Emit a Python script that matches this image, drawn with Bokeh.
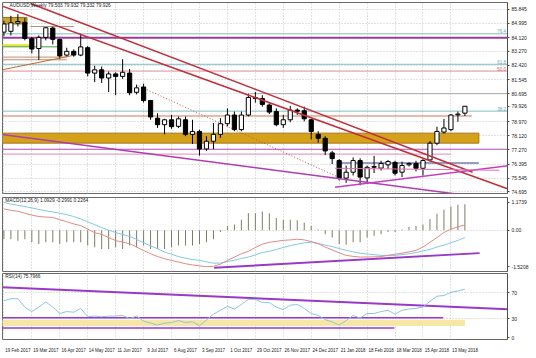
from bokeh.plotting import figure
from bokeh.models import ColumnDataSource, Range1d, FixedTicker, Grid, Label
from bokeh.layouts import column
from bokeh.embed import file_html
from bokeh.resources import INLINE

FONT = "Liberation Sans"

SYMBOL_TITLE = "AUDUSD,Weekly  79.503 79.932 79.332 79.926"
MACD_TITLE = "MACD(12,26,9) 1.0929 -0.2991 0.2264"
RSI_TITLE = "RSI(14) 75.7966"

# weekly bars: index 0 = 19 Feb 2017 ... index 66 = 27 May 2018
TICK_LABELS = ["19 Feb 2017", "19 Mar 2017", "16 Apr 2017", "14 May 2017", "11 Jun 2017",
               "9 Jul 2017", "6 Aug 2017", "3 Sep 2017", "1 Oct 2017", "29 Oct 2017",
               "26 Nov 2017", "24 Dec 2017", "21 Jan 2018", "18 Feb 2018", "18 Mar 2018",
               "15 Apr 2018", "13 May 2018"]
TICK_BARS = [0, 4, 8, 12, 16, 20, 24, 28, 32, 36, 40, 44, 48, 52, 56, 60, 64]

OPEN = [84.45, 84.50, 85.00, 85.05, 84.05, 83.45, 84.13, 84.70, 84.00, 83.05,
        83.28, 83.05, 83.50, 81.95, 82.15, 81.65, 81.90, 81.75, 81.95, 80.78,
        81.10, 80.28, 79.20, 78.80, 79.10, 78.70, 79.10, 78.21, 78.39, 77.32,
        77.79, 78.21, 78.86, 79.39, 78.50, 79.39, 80.46, 80.40, 80.00, 79.60,
        78.80, 79.10, 79.69, 79.65, 79.10, 78.21, 77.97, 77.08, 76.61, 75.54,
        75.90, 76.61, 75.55, 76.20, 76.15, 76.35, 76.50, 75.90, 76.35, 76.43,
        76.14, 76.65, 77.67, 78.35, 78.50, 79.40, 79.503]
HIGH = [85.15, 85.45, 85.55, 85.30, 84.15, 84.25, 84.75, 84.78, 84.05, 83.50,
        83.40, 84.35, 83.60, 82.40, 82.35, 82.05, 82.00, 82.80, 82.20, 81.25,
        81.30, 80.30, 79.50, 79.16, 79.40, 79.30, 79.30, 79.10, 78.50, 78.10,
        78.90, 79.20, 79.80, 79.60, 79.60, 80.70, 80.80, 80.60, 80.10, 79.80,
        79.40, 79.95, 79.80, 79.90, 79.15, 78.40, 78.10, 77.20, 76.70, 76.30,
        76.80, 76.75, 76.30, 76.90, 76.60, 76.65, 76.60, 76.55, 76.50, 76.60,
        76.70, 77.80, 78.68, 79.15, 79.45, 79.60, 79.932]
LOW = [84.20, 84.25, 84.80, 83.95, 83.15, 82.75, 83.95, 83.70, 82.80, 82.95,
       82.95, 82.98, 81.75, 81.40, 81.35, 80.80, 80.60, 81.60, 80.60, 80.65,
       80.15, 79.10, 78.60, 78.21, 78.55, 78.60, 78.10, 77.62, 76.91, 77.20,
       77.30, 78.00, 78.70, 78.40, 78.40, 79.30, 80.15, 79.90, 79.45, 78.70,
       78.60, 78.95, 79.40, 79.00, 77.90, 77.70, 76.95, 76.40, 75.40, 75.25,
       75.70, 75.10, 75.30, 75.85, 76.00, 76.10, 75.70, 75.60, 76.25, 75.95,
       75.70, 76.55, 77.55, 78.25, 78.40, 78.98, 79.332]
CLOSE = [84.95, 85.02, 85.10, 84.07, 83.42, 84.13, 84.72, 84.01, 83.00, 83.28,
         83.05, 83.55, 81.95, 82.15, 81.65, 81.90, 81.75, 82.00, 80.75, 81.05,
         80.28, 79.27, 78.80, 79.10, 78.68, 79.16, 78.21, 78.39, 77.32, 77.79,
         78.21, 78.86, 79.39, 78.50, 79.39, 80.46, 80.40, 80.04, 79.57, 78.80,
         79.10, 79.69, 79.62, 79.16, 78.39, 77.97, 77.20, 76.73, 75.54, 75.90,
         76.61, 75.60, 76.20, 76.25, 76.43, 76.55, 75.84, 76.31, 76.43, 76.14,
         76.61, 77.67, 78.39, 78.60, 79.39, 79.45, 79.926]

PRICE_GRID = [85.845, 84.995, 84.120, 83.270, 82.420, 81.545, 80.695,
              78.970, 78.120, 77.270, 76.395, 75.545, 74.695]
LAST_PRICE = 79.926
PRICE_TICKS = PRICE_GRID + [LAST_PRICE]
PRICE_TICK_LABELS = ["85.845", "84.995", "84.120", "83.270", "82.420", "81.545", "80.695",
                     "78.970", "78.120", "77.270", "76.395", "75.545", "74.695", "79.926"]

MACD_HIST = [-0.37, -0.37, -0.44, -0.37, -0.50, -0.57, -0.50, -0.50, -0.57, -0.50,
             -0.50, -0.50, -0.64, -0.71, -0.78, -0.78, -0.71, -0.78, -0.64, -0.71,
             -0.64, -0.78, -0.78, -0.78, -0.71, -0.64, -0.64, -0.64, -0.57, -0.50,
             -0.37, -0.07, 0.18, 0.25, 0.45, 0.72, 0.72, 0.79, 0.72, 0.52,
             0.45, 0.45, 0.42, 0.32, 0.18, 0.04, -0.16, -0.30, -0.57, -0.60,
             -0.50, -0.50, -0.30, -0.23, -0.16, -0.07, -0.07, 0.04, 0.14, 0.18,
             0.25, 0.48, 0.70, 0.86, 1.00, 1.07, 1.0929]
MACD_MAIN = [0.90, 0.84, 0.80, 0.72, 0.64, 0.58, 0.56, 0.54, 0.45, 0.36,
             0.27, 0.20, 0.05, -0.10, -0.17, -0.30, -0.43, -0.49, -0.56, -0.70,
             -0.85, -0.98, -1.10, -1.19, -1.26, -1.33, -1.40, -1.45, -1.49, -1.5208,
             -1.51, -1.42, -1.26, -1.12, -0.98, -0.88, -0.72, -0.58, -0.50, -0.46,
             -0.42, -0.40, -0.37, -0.40, -0.47, -0.56, -0.70, -0.82, -0.94, -1.05,
             -1.09, -1.12, -1.12, -1.11, -1.10, -1.05, -1.00, -0.96, -0.90, -0.84,
             -0.70, -0.50, -0.30, -0.09, 0.05, 0.15, 0.2264]
MACD_SIGNAL = [1.1739, 1.10, 1.05, 1.00, 0.94, 0.88, 0.82, 0.77, 0.72, 0.66,
               0.58, 0.48, 0.36, 0.24, 0.12, 0.01, -0.09, -0.17, -0.26, -0.38,
               -0.52, -0.65, -0.77, -0.91, -1.00, -1.10, -1.17, -1.22, -1.26, -1.32,
               -1.38, -1.37, -1.31, -1.25, -1.18, -1.12, -1.03, -0.93, -0.88, -0.80,
               -0.72, -0.64, -0.58, -0.52, -0.50, -0.55, -0.62, -0.68, -0.76, -0.84,
               -0.90, -0.96, -0.99, -1.02, -1.05, -1.05, -1.05, -1.02, -0.98, -0.93,
               -0.86, -0.80, -0.70, -0.62, -0.52, -0.42, -0.2991]
MACD_TICKS = [1.1739, 0.0, -1.5208]
MACD_TICK_LABELS = ["1.1739", "0.00", "-1.5208"]

RSI_VALUES = [58, 61, 61, 48, 41, 48, 56, 48, 38, 41,
              40, 46, 33, 34, 33, 34, 34, 35, 30, 34,
              26, 23, 20, 23, 24, 27, 24, 25, 19, 28,
              37, 43, 49, 45, 52, 60, 60, 55, 55, 48,
              44, 51, 52, 46, 38, 35, 28.5, 25, 20, 27,
              35, 31, 38, 38, 41, 43, 37, 43, 45, 46,
              48, 57, 65, 66, 71, 73, 75.7966]
RSI_TICKS = [70, 30, 0]

# drawn objects (bar index, value)
RED_UPPER = ([3.8, 67.1], [86.20, 75.90])
RED_LOWER = ([-0.5, 72.1], [86.08, 74.89])
MAGENTA_DOWN = ([-0.5, 65.3], [78.21, 74.54])
MAGENTA_UP = ([47.4, 72.4], [74.98, 76.31])
PINK_FLAT = ([47.4, 70.9], [76.14, 76.02])
RED_DOTTED = ([19.3, 48.1], [81.17, 75.55])
ORANGE_SHORT = ([-0.5, 9.8], [82.13, 83.02])

# horizontal levels: price, bar from, bar to, colour, width
H_LEVELS = [
    (84.347, -0.5, 72.5, "#7ebfc4", 1),
    (84.110, -0.5, 72.5, "#9a3c9a", 2),
    (84.797, 3.8, 10.0, "#b0907a", 1),
    (83.654, -0.5, 3.8, "#e6e620", 2),
    (83.554, -0.5, 8.0, "#3f9f3f", 1),
    (82.926, -0.5, 9.0, "#c08a6a", 1),
    (82.766, -0.5, 9.0, "#c08a6a", 1),
    (82.488, -0.5, 72.5, "#7ebfc4", 1),
    (82.074, -0.5, 72.5, "#e08a9a", 1),
    (80.694, 35.2, 72.5, "#a8a8a8", 1),
    (79.628, -0.5, 72.5, "#7ebfc4", 1),
    (79.332, -0.5, 67.0, "#d0785a", 1),
    (77.302, -0.5, 72.5, "#b84cb8", 1),
    (77.005, -0.5, 64.0, "#e08ab0", 1),
    (76.461, 47.8, 68.0, "#2e3a8a", 1),
]
GOLD_ZONE = (77.675, 78.284, -0.5, 68.0)
OLIVE_ZONE = (84.95, 85.35, -0.5, 3.3)
FIB_LABELS = [("76.4", 84.347, "#6aa9b0"), ("61.8", 82.488, "#6aa9b0"),
              ("50.0", 82.074, "#d06070"), ("38.2", 79.628, "#6aa9b0")]

RSI_LINE_DOWN = ([-0.5, 72.2], [78.8, 44.7])
RSI_LEVEL_A = (31.5, -0.5, 62.9)
RSI_LEVEL_B = (15.3, -0.5, 55.9)
RSI_ZONE = (18.5, 28.2, -0.5, 66.0)
MACD_LINE_UP = ([30.1, 68.1], [-1.57, -0.955])

N = len(OPEN)
IDX = list(range(N))

xr = Range1d(-0.2, 72.1)
FW = 505
GRID_C = "#c4c4c4"


def base(fh, yr, top, bottom, xaxis=False):
    p = figure(frame_width=FW, frame_height=fh, x_range=xr, y_range=yr,
               x_axis_location="below" if xaxis else None, y_axis_location="right",
               output_backend="svg", toolbar_location=None,
               min_border_left=2, min_border_right=21, min_border_top=top,
               min_border_bottom=bottom)
    p.outline_line_color = "#6a6a6a"
    p.background_fill_color = "white"
    p.border_fill_color = "white"
    p.xgrid.visible = False
    p.add_layout(Grid(dimension=0, ticker=FixedTicker(ticks=TICK_BARS),
                      grid_line_color=GRID_C, grid_line_dash="1 2"))
    ya = p.yaxis[0]
    ya.axis_line_color = "#505050"
    ya.major_tick_out = 2
    ya.major_tick_in = 0
    ya.major_tick_line_color = "#505050"
    ya.minor_tick_line_color = None
    ya.major_label_text_font_size = "5px"
    ya.major_label_text_font = FONT
    ya.major_label_text_color = "#222222"
    ya.major_label_standoff = 2
    p.ygrid.grid_line_color = GRID_C
    p.ygrid.grid_line_dash = "1 2"
    return p


# ---------------- price panel ----------------
pp = base(191, Range1d(74.60, 86.26), 2, 3)
pp.yaxis[0].ticker = FixedTicker(ticks=PRICE_TICKS)
pp.yaxis[0].major_label_overrides = dict(zip(PRICE_TICKS, PRICE_TICK_LABELS))
pp.ygrid.ticker = FixedTicker(ticks=PRICE_GRID)

g0, g1, gx0, gx1 = GOLD_ZONE
pp.quad(left=[gx0], right=[gx1], bottom=[g0], top=[g1], fill_color="#d4a21a",
        line_color="#a8741a", line_width=1)
o0, o1, ox0, ox1 = OLIVE_ZONE
pp.quad(left=[ox0], right=[ox1], bottom=[o0], top=[o1], fill_color="#c8a232",
        line_color="#8a7020", line_width=1)

for lv, xa_, xb_, col, w in H_LEVELS:
    pp.line([xa_, xb_], [lv, lv], line_color=col, line_width=w)

for txt, lv, col in FIB_LABELS:
    pp.add_layout(Label(x=71.9, y=lv, text=txt, text_align="right", text_baseline="bottom",
                        text_font_size="4.5px", text_font=FONT, text_color=col, y_offset=0.5))

pp.line(RED_DOTTED[0], RED_DOTTED[1], line_color="#d05050", line_width=1, line_dash="1 2")

top_ = [max(o, c) for o, c in zip(OPEN, CLOSE)]
bot_ = [min(o, c) for o, c in zip(OPEN, CLOSE)]
fill_ = ["white" if c >= o else "black" for o, c in zip(OPEN, CLOSE)]
csrc = ColumnDataSource(dict(x=IDX, h=HIGH, l=LOW, top=top_, bot=bot_, fill=fill_))
pp.segment(x0="x", y0="l", x1="x", y1="h", source=csrc, line_color="black", line_width=1)
pp.vbar(x="x", top="top", bottom="bot", width=0.6, source=csrc, fill_color="fill",
        line_color="black", line_width=1)

pp.line(RED_UPPER[0], RED_UPPER[1], line_color="#c0303a", line_width=1.5)
pp.line(RED_LOWER[0], RED_LOWER[1], line_color="#c0303a", line_width=1.5)
pp.line(MAGENTA_DOWN[0], MAGENTA_DOWN[1], line_color="#b03cb0", line_width=1.5)
pp.line(MAGENTA_UP[0], MAGENTA_UP[1], line_color="#c040c0", line_width=1.5)
pp.line(PINK_FLAT[0], PINK_FLAT[1], line_color="#e070a8", line_width=1)
pp.line(ORANGE_SHORT[0], ORANGE_SHORT[1], line_color="#c06a30", line_width=1)

pp.add_layout(Label(x=0.8, y=86.22, text=SYMBOL_TITLE, text_baseline="top",
                    text_font_size="4.8px", text_font=FONT, text_color="#222222"))

# ---------------- MACD panel ----------------
pm = base(74, Range1d(-1.726, 1.379), 1, 1)
pm.yaxis[0].ticker = FixedTicker(ticks=MACD_TICKS)
pm.ygrid.ticker = FixedTicker(ticks=[0.0])
pm.yaxis[0].major_label_overrides = dict(zip(MACD_TICKS, MACD_TICK_LABELS))
pm.vbar(x=IDX, top=MACD_HIST, bottom=0, width=0.14, fill_color="#7a7a62", line_color=None)
pm.line(IDX, MACD_SIGNAL, line_color="#7fcbe3", line_width=1)
pm.line(IDX, MACD_MAIN, line_color="#e08a84", line_width=1)
pm.line(MACD_LINE_UP[0], MACD_LINE_UP[1], line_color="#9a38c8", line_width=2)
pm.add_layout(Label(x=0.2, y=1.36, text=MACD_TITLE, text_baseline="top",
                    text_font_size="4.8px", text_font=FONT, text_color="#222222"))

# ---------------- RSI panel ----------------
pr = base(66, Range1d(-2.5, 100.3), 1, 11, xaxis=True)
pr.yaxis[0].ticker = FixedTicker(ticks=RSI_TICKS)
pr.ygrid.ticker = FixedTicker(ticks=[70, 30])
z0, z1, zx0, zx1 = RSI_ZONE
pr.quad(left=[zx0], right=[zx1], bottom=[z0], top=[z1], fill_color="#f6e7a4", line_color=None)
pr.line([RSI_LEVEL_A[1], RSI_LEVEL_A[2]], [RSI_LEVEL_A[0]] * 2, line_color="#9a38c8", line_width=1.5)
pr.line([RSI_LEVEL_B[1], RSI_LEVEL_B[2]], [RSI_LEVEL_B[0]] * 2, line_color="#9a38c8", line_width=1.5)
pr.line(RSI_LINE_DOWN[0], RSI_LINE_DOWN[1], line_color="#9a38c8", line_width=2)
pr.line(IDX, RSI_VALUES, line_color="#8cc6de", line_width=1)
pr.add_layout(Label(x=0.2, y=99, text=RSI_TITLE, text_baseline="top",
                    text_font_size="4.8px", text_font=FONT, text_color="#222222"))

xa = pr.xaxis[0]
label_pos = [b + 2 for b in TICK_BARS]
xa.ticker = FixedTicker(ticks=label_pos)
xa.major_label_overrides = dict(zip(label_pos, TICK_LABELS))
xa.axis_line_color = None
xa.major_tick_line_color = None
xa.minor_tick_line_color = None
xa.major_label_standoff = 2
xa.major_label_text_font_size = "4.5px"
xa.major_label_text_font = FONT
xa.major_label_text_color = "#222222"

layout = column(pp, pm, pr, spacing=0)
open("out.html", "w").write(file_html(layout, INLINE))
